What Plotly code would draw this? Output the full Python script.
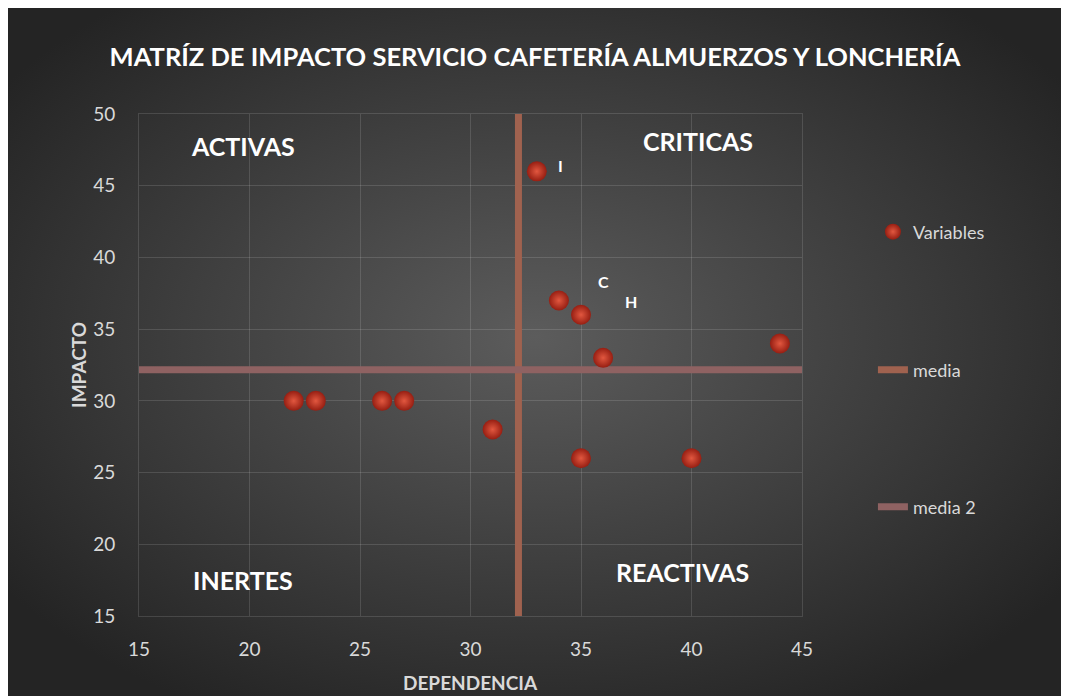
"""
Impact matrix (dependencia vs impacto) for the cafeteria service.
"""

import urllib.parse
import plotly.graph_objects as go

# Variables (dependencia, impacto)
dependencia = [22, 23, 26, 27, 31, 35, 40, 44, 33, 34, 35, 36]
impacto = [30, 30, 30, 30, 28, 26, 26, 34, 46, 37, 36, 33]

# Mean lines
media_x = 32.17
media_y = 32.17

# Point labels shown on the chart
point_labels = ['I', 'C', 'H']
point_label_x = [34.05, 36.0, 37.25]
point_label_y = [46.4, 38.35, 36.95]

# Quadrant names
quadrants = ['ACTIVAS', 'CRITICAS', 'INERTES', 'REACTIVAS']
quadrant_x = [19.7, 40.3, 19.7, 39.6]
quadrant_y = [47.8, 48.1, 17.5, 18.1]

x_ticks = [15, 20, 25, 30, 35, 40, 45]
y_ticks = [15, 20, 25, 30, 35, 40, 45, 50]

FONT = 'Lato'
TEXT_GRAY = '#d9d9d9'
GRID = 'rgba(255,255,255,0.13)'
MEDIA_COLOR = '#a0624f'
MEDIA2_COLOR = '#8f6262'

# Background gradient as an svg image
svg = (
    '<svg xmlns="http://www.w3.org/2000/svg" width="1061" height="691" '
    'preserveAspectRatio="none" viewBox="0 0 1061 691">'
    '<defs><radialGradient id="g" cx="50%" cy="48%" r="62%">'
    '<stop offset="0" stop-color="#5c5c5c"/>'
    '<stop offset="1" stop-color="#242424"/>'
    '</radialGradient></defs>'
    '<rect width="1061" height="691" fill="url(#g)"/></svg>'
)
bg_src = 'data:image/svg+xml;charset=utf-8,' + urllib.parse.quote(svg)

fig = go.Figure()

fig.add_trace(go.Scatter(
    x=[media_x, media_x], y=[15, 50],
    mode='lines', name='media',
    line=dict(color=MEDIA_COLOR, width=7),
    legend='legend2', showlegend=True,
))
fig.add_trace(go.Scatter(
    x=[15, 45], y=[media_y, media_y],
    mode='lines', name='media 2',
    line=dict(color=MEDIA2_COLOR, width=7),
    legend='legend3', showlegend=True,
))
fig.add_trace(go.Scatter(
    x=dependencia, y=impacto,
    mode='markers', name='Variables',
    marker=dict(
        size=20, color='#961e12',
        # radial gradient: this is the centre colour
        gradient=dict(type='radial', color='#e2573f'),
        line=dict(width=0),
    ),
    legend='legend', showlegend=True,
))

annotations = []
for lbl, lx, ly in zip(point_labels, point_label_x, point_label_y):
    annotations.append(dict(
        x=lx, y=ly, text=lbl, showarrow=False,
        font=dict(family=FONT, size=16, color='white', weight='bold'),
    ))
for lbl, qx, qy in zip(quadrants, quadrant_x, quadrant_y):
    annotations.append(dict(
        x=qx, y=qy, text=lbl, showarrow=False,
        font=dict(family=FONT, size=25, color='white', weight='bold'),
    ))

# axis titles
annotations.append(dict(
    x=-0.092, y=0.5, xref='paper', yref='paper', text='IMPACTO',
    textangle=-90, showarrow=False, xanchor='center', yanchor='middle',
    font=dict(family=FONT, size=19, color=TEXT_GRAY, weight='bold'),
))
annotations.append(dict(
    x=0.5, y=-0.1315, xref='paper', yref='paper', text='DEPENDENCIA',
    showarrow=False, xanchor='center', yanchor='middle',
    font=dict(family=FONT, size=19, color=TEXT_GRAY, weight='bold'),
))

legend_style = dict(
    bgcolor='rgba(0,0,0,0)',
    font=dict(family=FONT, size=18, color=TEXT_GRAY),
    xanchor='left', yanchor='middle', x=1.107,
)

fig.update_layout(
    width=1061, height=688,
    margin=dict(l=131, r=267, t=106, b=80),
    paper_bgcolor='white',
    plot_bgcolor='rgba(0,0,0,0)',
    showlegend=True,
    title=dict(
        text='MATRÍZ DE IMPACTO SERVICIO CAFETERÍA ALMUERZOS Y LONCHERÍA',
        x=0.4967, xref='container', y=0.929, yref='container',
        xanchor='center', yanchor='middle',
        font=dict(family=FONT, size=25.5, color='white', weight='bold'),
    ),
    xaxis=dict(
        range=[15, 45], tickvals=x_ticks,
        showgrid=True, gridcolor=GRID, gridwidth=1,
        showline=True, linecolor=GRID, mirror=True,
        zeroline=False, ticks='', ticklabelstandoff=16,
        tickfont=dict(family=FONT, size=19, color=TEXT_GRAY),
    ),
    yaxis=dict(
        range=[15, 50], tickvals=y_ticks,
        showgrid=True, gridcolor=GRID, gridwidth=1,
        showline=True, linecolor=GRID, mirror=True,
        zeroline=False, ticks='', ticklabelstandoff=19,
        tickfont=dict(family=FONT, size=19, color=TEXT_GRAY),
    ),
    legend=dict(y=0.765, **legend_style),
    legend2=dict(y=0.49, **legend_style),
    legend3=dict(y=0.217, **legend_style),
    annotations=annotations,
    images=[dict(
        source=bg_src, xref='paper', yref='paper',
        x=-0.2021, y=1.2171, sizex=1.6, sizey=1.3765,
        xanchor='left', yanchor='top', sizing='stretch', layer='below',
    )],
)

fig.write_html("out.html")
